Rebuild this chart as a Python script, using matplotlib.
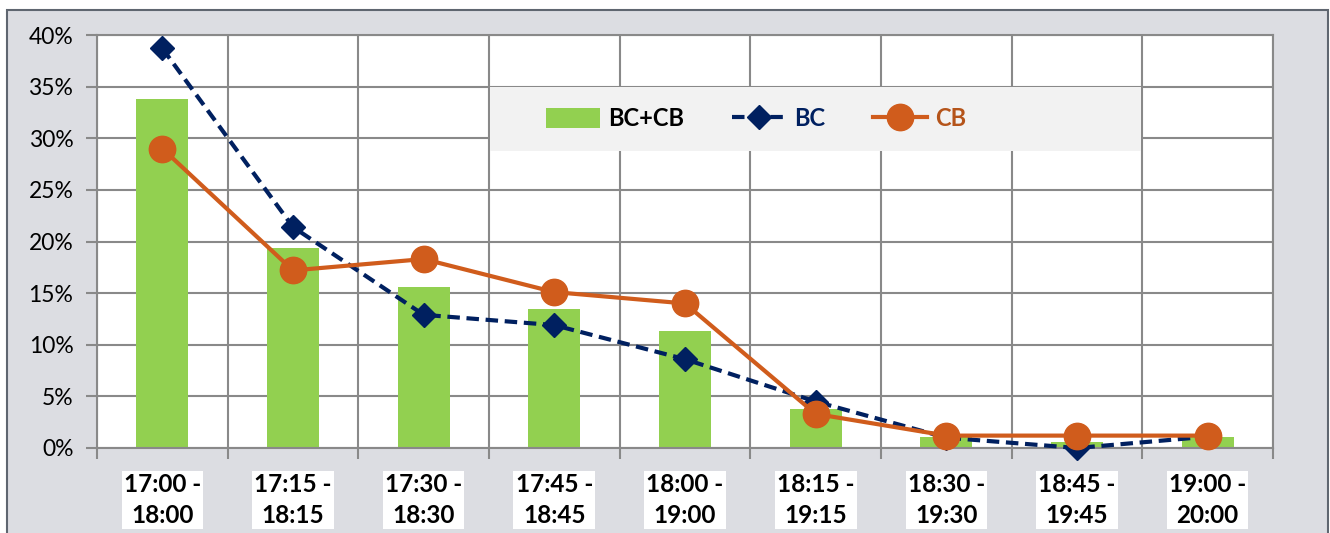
import numpy as np
import matplotlib.pyplot as plt
from matplotlib.patches import Rectangle
from matplotlib.lines import Line2D
from matplotlib.patches import Patch

plt.rcParams['font.family'] = ['Lato', 'DejaVu Sans']

# share of trips per departure window
periods = ['17:00 -\n18:00', '17:15 -\n18:15', '17:30 -\n18:30', '17:45 -\n18:45',
           '18:00 -\n19:00', '18:15 -\n19:15', '18:30 -\n19:30', '18:45 -\n19:45',
           '19:00 -\n20:00']
bc_cb = [33.8, 19.4, 15.6, 13.5, 11.3, 3.8, 1.1, 0.6, 1.1]
bc = [38.7, 21.4, 12.9, 11.9, 8.6, 4.5, 1.0, 0.0, 1.1]
cb = [29.0, 17.2, 18.3, 15.1, 14.0, 3.3, 1.2, 1.2, 1.2]

green = '#92D050'
navy = '#002060'
orange = '#D05C1C'
grid_col = '#898989'

fig = plt.figure(figsize=(13.3, 5.33), dpi=100, facecolor='white')
# chart frame
fig.patches.append(Rectangle((7/1330, -0.05), 1321/1330, 1.05 - 10/533,
                             transform=fig.transFigure, facecolor='#DCDDE2',
                             edgecolor='#5F6670', linewidth=1.5, zorder=-5))

ax = fig.add_axes([97/1330, 85/533, 1176/1330, 413/533])
ax.set_facecolor('white')
x = np.arange(len(periods))
y1 = np.array(bc_cb) / 100
y2 = np.array(bc) / 100
y3 = np.array(cb) / 100

ax.bar(x, y1, width=0.4, color=green, zorder=2)
ax.plot(x, y2, color=navy, linewidth=3, dashes=(3, 1.6), marker='D',
        markersize=12, zorder=3, clip_on=False)
ax.plot(x, y3, color=orange, linewidth=3, marker='o', markersize=19, zorder=4,
        clip_on=False)

ax.set_xlim(-0.5, len(periods) - 0.5)
ax.set_ylim(0, 0.4)
ax.set_yticks(np.arange(0, 0.41, 0.05))
ax.set_yticklabels(['%d%%' % v for v in range(0, 41, 5)], fontsize=16.5)
ax.set_xticks(np.arange(-0.5, len(periods), 1.0))
ax.set_xticklabels([])
ax.set_xticks(x, minor=True)
ax.set_xticklabels(periods, minor=True, fontsize=17.5, fontweight='bold',
                   linespacing=1.42)
for lab in ax.get_xticklabels(minor=True):
    lab.set_bbox(dict(facecolor='white', edgecolor='none', pad=1.5))
ax.tick_params(axis='x', which='minor', length=0, pad=18)
ax.tick_params(axis='x', which='major', length=8, width=1.5, color=grid_col)
ax.tick_params(axis='y', length=8, width=1.5, color=grid_col, pad=9)

ax.grid(True, which='major', color=grid_col, linewidth=1.5, zorder=1)
ax.set_axisbelow(True)
for s in ax.spines.values():
    s.set_color(grid_col)
    s.set_linewidth(1.5)

# legend panel
ax.add_patch(Rectangle((393/1176, 297/413), 651/1176, 64/413, transform=ax.transAxes,
                       facecolor='#F2F2F2', edgecolor='none', zorder=5))
handles = [Patch(facecolor=green, edgecolor='none'),
           Line2D([], [], color=navy, linewidth=3, dashes=(3, 1.6), marker='D', markersize=12),
           Line2D([], [], color=orange, linewidth=3, marker='o', markersize=19)]
leg = ax.legend(handles, ['BC+CB', 'BC', 'CB'], ncol=3, loc='center left',
                bbox_to_anchor=(449/1176, 0.797), frameon=False,
                prop={'size': 17, 'weight': 'bold'}, handlelength=2.3,
                handleheight=0.9, columnspacing=2.0, handletextpad=0.35,
                borderpad=0, borderaxespad=0)
leg.set_zorder(6)
for t, c in zip(leg.get_texts(), ['black', navy, '#B5541A']):
    t.set_color(c)

fig.savefig('out.png', dpi=100, facecolor=fig.get_facecolor())
